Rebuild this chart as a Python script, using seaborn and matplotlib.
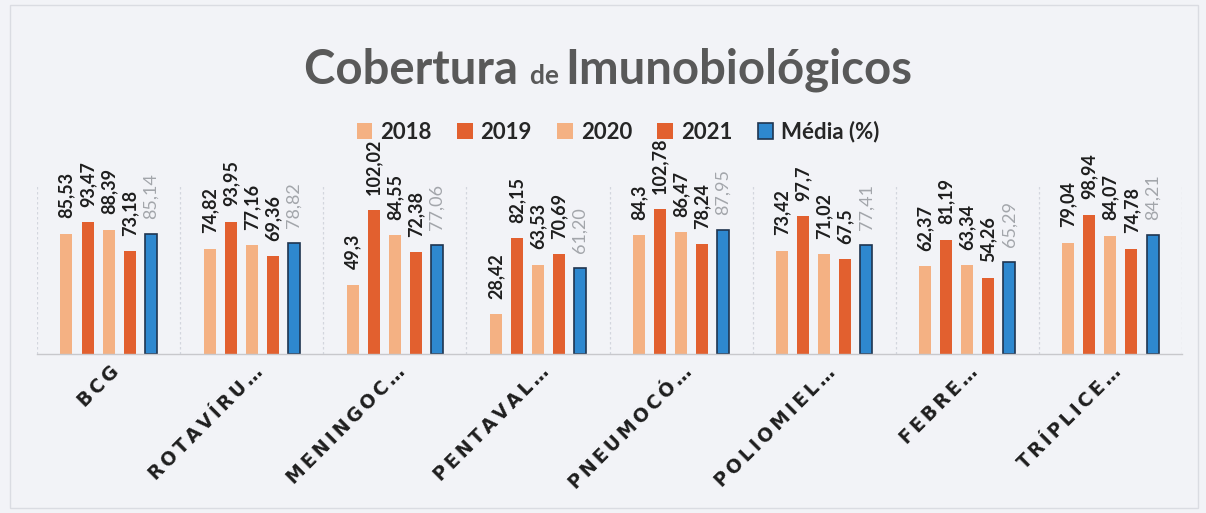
import matplotlib
matplotlib.use("Agg")
import matplotlib.pyplot as plt
import matplotlib.transforms as mtransforms
from matplotlib.patches import Patch, Rectangle
import numpy as np
import pandas as pd
import seaborn as sns

# ---- data ----
vacinas = ["BCG", "ROTAVÍRU…", "MENINGOC…", "PENTAVAL…",
           "PNEUMOCÓ…", "POLIOMIEL…", "FEBRE…", "TRÍPLICE…"]
series = ["2018", "2019", "2020", "2021", "Média (%)"]
cob_2018 = [85.53, 74.82, 49.3, 28.42, 84.3, 73.42, 62.37, 79.04]
cob_2019 = [93.47, 93.95, 102.02, 82.15, 102.78, 97.7, 81.19, 98.94]
cob_2020 = [88.39, 77.16, 84.55, 63.53, 86.47, 71.02, 63.34, 84.07]
cob_2021 = [73.18, 69.36, 72.38, 70.69, 78.24, 67.5, 54.26, 74.78]
media = [85.14, 78.82, 77.06, 61.20, 87.95, 77.41, 65.29, 84.21]

valores = [cob_2018, cob_2019, cob_2020, cob_2021, media]
df = pd.DataFrame({
    "Vacina": np.tile(vacinas, len(series)),
    "Série": np.repeat(series, len(vacinas)),
    "Cobertura": np.concatenate(valores),
})

# ---- style ----
sns.set_theme(style="white")
plt.rcParams["font.family"] = ["Lato", "DejaVu Sans"]

bg = "#F2F3F7"
claro = "#F4B183"
escuro = "#E2602F"
azul = "#2E88CF"
borda_media = "#1F3550"
paleta = {"2018": claro, "2019": escuro, "2020": claro, "2021": escuro, "Média (%)": azul}

fig = plt.figure(figsize=(12.06, 5.13), dpi=100, facecolor=bg)
ax = fig.add_axes([37 / 1206, 1 - 354 / 513, (1182 - 37) / 1206, (354 - 185) / 513])
ax.set_facecolor(bg)

sns.barplot(data=df, x="Vacina", y="Cobertura", hue="Série", palette=paleta,
            order=vacinas, hue_order=series, width=0.735, gap=0.43,
            saturation=1, linewidth=0, legend=False, ax=ax)

ax.set_ylim(0, 120)
ax.set_xlim(-0.5, len(vacinas) - 0.5)
ax.set_yticks([])
ax.set_xlabel("")
ax.set_ylabel("")
for s in ["top", "right", "left"]:
    ax.spines[s].set_visible(False)
ax.spines["bottom"].set_color("#C8C8CC")
ax.spines["bottom"].set_linewidth(1.0)

# category separators
for xb in np.arange(-0.5, len(vacinas), 1.0):
    ax.axvline(xb, ymin=0, ymax=1, color="#D3D6DE", lw=0.9, ls=(0, (2, 2)), zorder=0)

# outline on the average bars
for bar in ax.containers[-1]:
    bar.set_edgecolor(borda_media)
    bar.set_linewidth(1.2)

# value labels
def fmt_ano(v):
    return f"{v:g}".replace(".", ",")

for cont, vals, nome in zip(ax.containers, valores, series):
    if nome == "Média (%)":
        labels = [f"{v:.2f}".replace(".", ",") for v in vals]
        ax.bar_label(cont, labels=labels, rotation=90, padding=11,
                     fontsize=13, color="#A3A6AB", fontweight="normal")
    else:
        labels = [fmt_ano(v) for v in vals]
        ax.bar_label(cont, labels=labels, rotation=90, padding=11,
                     fontsize=13, color="#1E1E1E", fontweight="bold")

# category labels, drawn with wide letter spacing
espaco = "\u2006"
rotulos = [espaco.join(v) for v in vacinas]
ax.set_xticks(range(len(vacinas)))
ax.set_xticklabels(rotulos, rotation=45, ha="right", va="center",
                   rotation_mode="anchor", fontsize=13.5, fontweight="bold",
                   family=["DejaVu Sans"], color="#1E1E1E")
ax.tick_params(axis="x", length=0, pad=11)
desloc = mtransforms.ScaledTranslation(8 / 100, 0, fig.dpi_scale_trans)
for lab in ax.get_xticklabels():
    lab.set_transform(lab.get_transform() + desloc)

# legend
handles = [Patch(facecolor=paleta[s], edgecolor=(borda_media if s == "Média (%)" else paleta[s]),
                 linewidth=1.2 if s == "Média (%)" else 0) for s in series]
fig.legend(handles, series, loc="center", bbox_to_anchor=(0.5125, 1 - 132 / 513),
           ncol=5, frameon=False, handlelength=0.7, handleheight=0.7,
           handletextpad=0.35, columnspacing=1.15,
           prop={"family": "Lato", "weight": "bold", "size": 16}, labelcolor="#262626")

# title with a smaller "de"
cor_titulo = "#595959"
partes = [("Cobertura ", 34), ("de ", 19), ("Imunobiológicos", 34)]
y_tit = 1 - 84 / 513
textos = [fig.text(0, y_tit, t, fontsize=s, fontweight="bold", color=cor_titulo,
                   ha="left", va="baseline") for t, s in partes]
fig.canvas.draw()
rend = fig.canvas.get_renderer()
larguras = [t.get_window_extent(rend).width for t in textos]
total = sum(larguras)
x0 = (1216 - total) / 2
for t, w in zip(textos, larguras):
    t.set_x(x0 / 1206)
    x0 += w

# faint chart frame
fig.patches.append(Rectangle((10 / 1206, 5 / 513), 1188 / 1206, 503 / 513,
                             transform=fig.transFigure, fill=False,
                             edgecolor="#DADCE2", lw=1))

fig.savefig("out.png", dpi=100, facecolor=bg)
